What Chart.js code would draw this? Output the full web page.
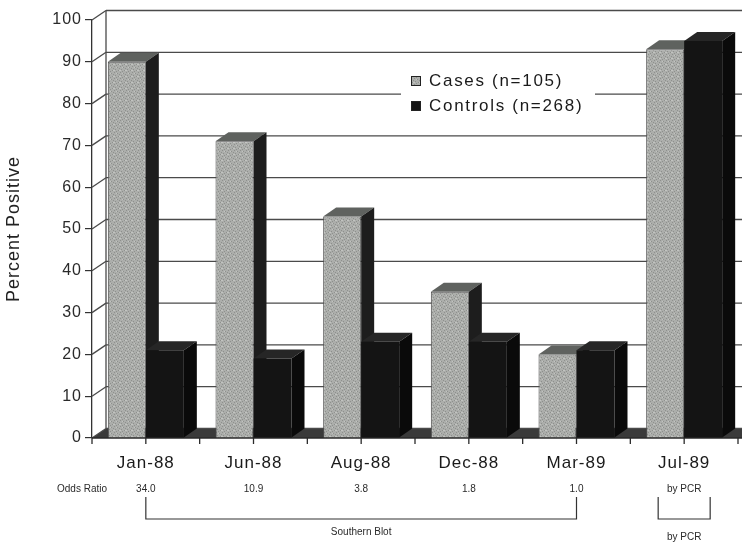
<!DOCTYPE html>
<html><head><meta charset="utf-8">
<script src="https://cdn.jsdelivr.net/npm/chart.js@4/dist/chart.umd.min.js"></script>
<style>html,body{margin:0;padding:0;background:#fff;overflow:hidden}</style>
</head><body>
<canvas id="c" width="742" height="546"></canvas>
<script>
// ---- data ----
const categories = ['Jan-88', 'Jun-88', 'Aug-88', 'Dec-88', 'Mar-89', 'Jul-89'];
const casesValues = [90, 71, 53, 35, 20, 93];
const controlsValues = [21, 19, 23, 23, 21, 95];
const seriesNames = ['Cases (n=105)', 'Controls (n=268)'];
const yTickValues = [0, 10, 20, 30, 40, 50, 60, 70, 80, 90, 100];
const oddsRatioLabel = 'Odds Ratio';
const oddsRatios = ['34.0', '10.9', '3.8', '1.8', '1.0', 'by PCR'];
const bracketLabels = ['Southern Blot', 'by PCR'];
const yTitle = 'Percent Positive';

// ---- style ----
const FONT = "'Liberation Sans', Arial, sans-serif";
const BAR_D = { dx: 13, dy: -9 };
const WALL_D = { dx: 14, dy: -9.5 };

function makeStipple() {
  const c = document.createElement('canvas');
  c.width = 6; c.height = 6;
  const g = c.getContext('2d');
  g.fillStyle = '#acaeab'; g.fillRect(0, 0, 6, 6);
  const dots = [[0,0],[3,1],[1,3],[4,4],[2,5],[5,2]];
  g.fillStyle = '#8e908d';
  dots.forEach(([x, y]) => g.fillRect(x, y, 1, 1));
  g.fillStyle = '#c2c4c1';
  [[2,1],[5,4],[0,4]].forEach(([x, y]) => g.fillRect(x, y, 1, 1));
  return g.createPattern(c, 'repeat');
}

const faceColors = [
  { top: '#5f625f', side: '#1d1d1d' },
  { top: '#262626', side: '#0a0a0a' }
];

function poly(ctx, pts, fill) {
  ctx.beginPath();
  ctx.moveTo(pts[0][0], pts[0][1]);
  for (let i = 1; i < pts.length; i++) ctx.lineTo(pts[i][0], pts[i][1]);
  ctx.closePath();
  ctx.fillStyle = fill;
  ctx.fill();
}

const threeD = {
  id: 'threeD',
  beforeDraw(chart) {
    const ctx = chart.ctx;
    ctx.save();
    ctx.letterSpacing = '0px';
    ctx.fillStyle = '#fff';
    ctx.fillRect(0, 0, chart.width, chart.height);
    ctx.restore();
    ctx.letterSpacing = '1px';
  },
  beforeDatasetsDraw(chart) {
    const ctx = chart.ctx;
    const { left, right } = chart.chartArea;
    const ys = chart.scales.y;
    const W = chart.width;
    ctx.save();
    // floor
    const y0 = ys.getPixelForValue(0);
    poly(ctx, [[left, y0], [W, y0], [W, y0 + WALL_D.dy], [left + WALL_D.dx, y0 + WALL_D.dy]], '#3a3a3a');
    // back wall grid + diagonals
    ctx.strokeStyle = '#4a4a4a';
    ctx.lineWidth = 1.3;
    yTickValues.forEach(v => {
      const y = ys.getPixelForValue(v);
      ctx.beginPath();
      ctx.moveTo(left + WALL_D.dx, y + WALL_D.dy);
      ctx.lineTo(W, y + WALL_D.dy);
      ctx.stroke();
      ctx.beginPath();
      ctx.moveTo(left, y);
      ctx.lineTo(left + WALL_D.dx, y + WALL_D.dy);
      ctx.stroke();
    });
    // back wall left edge
    ctx.beginPath();
    ctx.moveTo(left + WALL_D.dx, ys.getPixelForValue(100) + WALL_D.dy);
    ctx.lineTo(left + WALL_D.dx, y0 + WALL_D.dy);
    ctx.stroke();
    // front x axis + ticks
    ctx.strokeStyle = '#2a2a2a';
    ctx.lineWidth = 1.3;
    ctx.beginPath();
    ctx.moveTo(left, y0); ctx.lineTo(W, y0); ctx.stroke();
    const cw = (right - left) / categories.length;
    for (let i = 0; i <= categories.length * 2; i++) {
      const x = left + i * cw / 2;
      ctx.beginPath();
      ctx.moveTo(x, y0); ctx.lineTo(x, y0 + 6); ctx.stroke();
    }
    // 3D faces of bars (front faces drawn by Chart.js on top)
    chart.data.datasets.forEach((ds, di) => {
      const meta = chart.getDatasetMeta(di);
      meta.data.forEach(el => {
        const p = el.getProps(['x', 'y', 'base', 'width'], true);
        const l = p.x - p.width / 2, r = p.x + p.width / 2;
        const { dx, dy } = BAR_D;
        poly(ctx, [[l, p.y], [r, p.y], [r + dx, p.y + dy], [l + dx, p.y + dy]], faceColors[di].top);
        poly(ctx, [[r, p.y], [r + dx, p.y + dy], [r + dx, p.base + dy], [r, p.base]], faceColors[di].side);
      });
    });
    ctx.restore();
  },
  afterDatasetsDraw(chart) {
    const ctx = chart.ctx;
    const xs = chart.scales.x;
    ctx.save();
    // legend
    ctx.fillStyle = '#fff';
    ctx.fillRect(401, 63, 194, 57);
    const swatches = [chart.data.datasets[0].backgroundColor, chart.data.datasets[1].backgroundColor];
    ctx.textBaseline = 'alphabetic';
    ctx.textAlign = 'left';
    ctx.font = '17px ' + FONT;
    ctx.letterSpacing = '1.7px';
    seriesNames.forEach((name, i) => {
      const yb = 86 + i * 25;
      ctx.fillStyle = swatches[i];
      ctx.fillRect(411, yb - 10, 10, 10);
      ctx.strokeStyle = '#222';
      ctx.lineWidth = 1;
      ctx.strokeRect(411.5, yb - 9.5, 9, 9);
      ctx.fillStyle = '#1a1a1a';
      ctx.fillText(name, 429, yb);
    });
    // odds ratio row
    ctx.letterSpacing = '0px';
    ctx.font = '10px ' + FONT;
    ctx.fillStyle = '#2a2a2a';
    ctx.textBaseline = 'middle';
    ctx.textAlign = 'left';
    ctx.fillText(oddsRatioLabel, 57, 489);
    ctx.textAlign = 'center';
    oddsRatios.forEach((t, i) => ctx.fillText(t, xs.getPixelForValue(i), 489));
    // brackets
    ctx.strokeStyle = '#333';
    ctx.lineWidth = 1.2;
    const bx0 = xs.getPixelForValue(0), bx1 = xs.getPixelForValue(4);
    ctx.beginPath();
    ctx.moveTo(bx0, 497); ctx.lineTo(bx0, 519); ctx.lineTo(bx1, 519); ctx.lineTo(bx1, 497);
    ctx.stroke();
    ctx.fillText(bracketLabels[0], (bx0 + bx1) / 2, 532);
    const pc = xs.getPixelForValue(5);
    ctx.beginPath();
    ctx.moveTo(pc - 26, 497); ctx.lineTo(pc - 26, 519); ctx.lineTo(pc + 26, 519); ctx.lineTo(pc + 26, 497);
    ctx.stroke();
    ctx.fillText(bracketLabels[1], pc, 537);
    ctx.restore();
  }
};

const ctx = document.getElementById('c').getContext('2d');
const stipple = makeStipple();

new Chart(ctx, {
  type: 'bar',
  data: {
    labels: categories,
    datasets: [
      { label: seriesNames[0], data: casesValues, backgroundColor: stipple, borderColor: '#505050', borderWidth: 1 },
      { label: seriesNames[1], data: controlsValues, backgroundColor: '#141414', borderColor: '#141414', borderWidth: 0 }
    ]
  },
  options: {
    responsive: false,
    animation: false,
    devicePixelRatio: 1,
    layout: { padding: { top: 20, right: 4, left: 0, bottom: 0 } },
    datasets: { bar: { categoryPercentage: 0.706, barPercentage: 1 } },
    plugins: { legend: { display: false }, tooltip: { enabled: false } },
    scales: {
      x: {
        grid: { display: false },
        border: { display: false },
        ticks: { font: { family: FONT, size: 17 }, color: '#1a1a1a', padding: 7, maxRotation: 0, autoSkip: false },
        afterFit(s) { s.height = 108; }
      },
      y: {
        min: 0, max: 100,
        afterBuildTicks(s) { s.ticks = yTickValues.map(v => ({ value: v })); },
        ticks: { font: { family: FONT, size: 16 }, color: '#2a2a2a', padding: 3 },
        grid: { drawOnChartArea: false, drawTicks: true, tickLength: 7, color: '#333', lineWidth: 1.2 },
        border: { display: true, color: '#333', width: 1.3 },
        title: { display: true, text: yTitle, font: { family: FONT, size: 18 }, color: '#222', padding: { top: 3, bottom: 0 } },
        afterFit(s) { s.width = 92; }
      }
    }
  },
  plugins: [threeD]
});
</script>
</body></html>
